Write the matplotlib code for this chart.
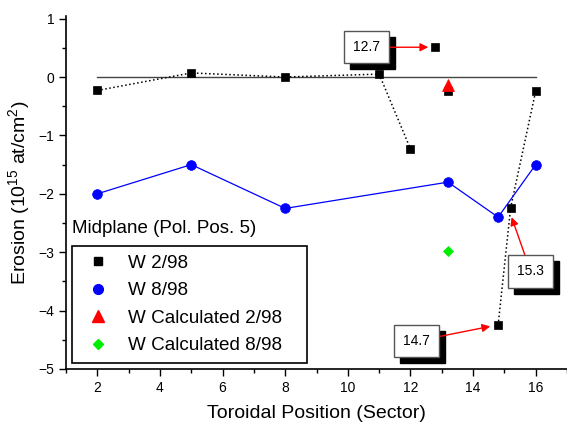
import matplotlib
matplotlib.use('Agg')
import matplotlib.pyplot as plt
from matplotlib.lines import Line2D
from matplotlib.patches import Rectangle
from matplotlib.ticker import MultipleLocator
import matplotlib.transforms as mtransforms

plt.rcParams['font.family'] = ['Liberation Sans', 'DejaVu Sans']
plt.rcParams['mathtext.fontset'] = 'custom'
plt.rcParams['mathtext.rm'] = 'Liberation Sans'

# W 2/98 measurements (dotted segments + loose points)
w298_seg1_x = [2, 5, 8, 11, 12]
w298_seg1_y = [-0.23, 0.07, 0.0, 0.05, -1.23]
w298_seg2_x = [14.8, 15.2, 16]
w298_seg2_y = [-4.25, -2.24, -0.24]
w298_loose_x = [12.8, 13.2]
w298_loose_y = [0.51, -0.24]

# W 8/98 measurements
w898_x = [2, 5, 8, 13.2, 14.8, 16]
w898_y = [-2.0, -1.5, -2.25, -1.8, -2.4, -1.5]

# calculated values
calc298_x = [13.2]
calc298_y = [-0.14]
calc898_x = [13.2]
calc898_y = [-2.98]

# annotations: label, arrow target, text position
notes = [
    ('12.7', (12.57, 0.51), (10.6, 0.51)),
    ('15.3', (15.23, -2.40), (15.84, -3.33)),
    ('14.7', (14.55, -4.27), (12.2, -4.52)),
]

fig = plt.figure(figsize=(5.67, 4.25), dpi=100)
ax = fig.add_axes([66 / 567, 56 / 425, 501 / 567, 353 / 425])

ax.plot([2, 16], [0, 0], color='#444444', lw=1, zorder=1)

ax.plot(w298_seg1_x, w298_seg1_y, ':', color='black', lw=1.1, zorder=2)
ax.plot(w298_seg2_x, w298_seg2_y, ':', color='black', lw=1.1, zorder=2)
ax.plot(w898_x, w898_y, '-', color='blue', lw=0.9, zorder=2)

ax.plot(w298_seg1_x + w298_loose_x + w298_seg2_x, w298_seg1_y + w298_loose_y + w298_seg2_y,
        's', color='black', ms=5.8, mew=0.5, ls='none', zorder=3)
ax.plot(w898_x, w898_y, 'o', color='blue', ms=7, mew=0.5, ls='none', zorder=3)
ax.plot(calc298_x, calc298_y, '^', color='red', ms=8, mew=0.5, ls='none', zorder=4)
ax.plot(calc898_x, calc898_y, 'D', color='#00ee00', ms=5.5, mew=0.5, ls='none', zorder=4)

anns = []
for label, target, pos in notes:
    a = ax.annotate(label, xy=target, xytext=pos, fontsize=10, ha='center', va='center', zorder=6,
                    bbox=dict(boxstyle='square,pad=0.65', fc='white', ec='#555555', lw=1),
                    arrowprops=dict(arrowstyle='-|>', color='red', lw=1, mutation_scale=12,
                                    shrinkA=0, shrinkB=0))
    anns.append(a)

ax.set_xlim(1, 17)
ax.set_ylim(-5, 1.045)
ax.xaxis.set_major_locator(MultipleLocator(2))
ax.xaxis.set_minor_locator(MultipleLocator(1))
ax.yaxis.set_major_locator(MultipleLocator(1))
ax.yaxis.set_minor_locator(MultipleLocator(0.5))
ax.tick_params(which='major', direction='out', length=5, width=1, labelsize=10)
ax.tick_params(which='minor', direction='out', length=3, width=1)
for s in ['top', 'right']:
    ax.spines[s].set_visible(False)
for s in ['left', 'bottom']:
    ax.spines[s].set_linewidth(1.2)

ax.set_xlabel('Toroidal Position (Sector)', fontsize=14, labelpad=7)
ax.set_ylabel(r'Erosion (10$^{\mathregular{15}}$ at/cm$^{\mathregular{2}}$)', fontsize=14, labelpad=4)

handles = [
    Line2D([], [], marker='s', color='black', ls='none', ms=5.8),
    Line2D([], [], marker='o', color='blue', ls='none', ms=7),
    Line2D([], [], marker='^', color='red', ls='none', ms=8),
    Line2D([], [], marker='D', color='#00ee00', ls='none', ms=5.5),
]
labels = ['W 2/98', 'W 8/98', 'W Calculated 2/98', 'W Calculated 8/98']
leg = ax.legend(handles, labels, loc='lower left', bbox_to_anchor=(0.012, 0.017, 0.469, 0),
                mode='expand', borderaxespad=0, fontsize=13.6, fancybox=False,
                edgecolor='black', framealpha=1, labelspacing=0.55, handletextpad=0.6,
                borderpad=0.45, handlelength=1.9)
leg.get_frame().set_linewidth(1.2)
ax.text(0.012, 0.397, 'Midplane (Pol. Pos. 5)', transform=ax.transAxes, fontsize=13.5,
        ha='left', va='center')

# drop shadows behind the annotation boxes
fig.canvas.draw()
renderer = fig.canvas.get_renderer()
for a in anns:
    bb = a.get_bbox_patch().get_window_extent(renderer)
    sh = Rectangle((bb.x0 + 6, bb.y0 - 6), bb.width, bb.height,
                   transform=mtransforms.IdentityTransform(),
                   fc='black', ec='black', zorder=5, clip_on=False)
    ax.add_artist(sh)

fig.savefig('out.png', dpi=100)
